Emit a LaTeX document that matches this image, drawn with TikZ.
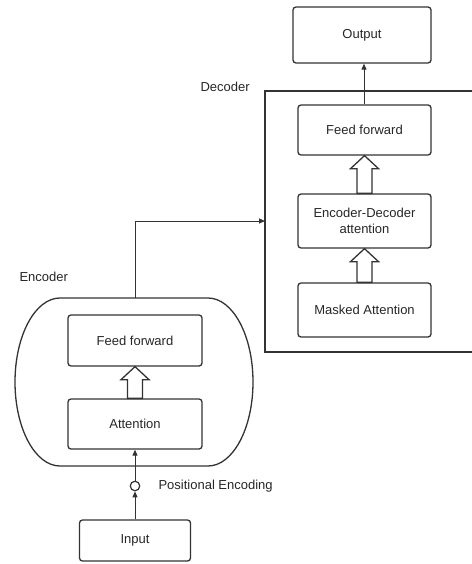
\documentclass[tikz,border=0pt]{standalone}
\usepackage{fontspec}
\setmainfont{Liberation Sans}
\usetikzlibrary{arrows.meta,calc}
\begin{document}
\begin{tikzpicture}[x=1pt,y=-1pt,
  every node/.style={font=\fontsize{13}{15.5}\selectfont, text=black!85},
  block/.style={draw=black!80, line width=1.3pt, rounded corners=3pt, align=center, inner sep=0pt},
  frame/.style={draw=black!80, line width=1.3pt},
  conn/.style={draw=black!80, line width=1pt, -{Triangle[length=6pt,width=5pt]}},
  hollowarr/.style={draw=black!80, line width=1.3pt, fill=white, line join=miter}
]
\useasboundingbox (0,0) rectangle (471,564);
\newcommand\harrow[2]{\path[hollowarr] let \p1=(#1.north), \p2=(#2.south) in
  (\x1-7.5pt,\y1) -- (\x1-7.5pt,\y2-13pt) -- (\x1-14pt,\y2-13pt) -- (\x1,\y2) --
  (\x1+14pt,\y2-13pt) -- (\x1+7.5pt,\y2-13pt) -- (\x1+7.5pt,\y1) -- cycle;}

% Encoder container
\draw[frame] (60,298) -- (208,298) arc[start angle=90, end angle=-90, x radius=45pt, y radius=84pt]
  -- (60,466) arc[start angle=270, end angle=90, x radius=45pt, y radius=84pt] -- cycle;
\coordinate (enctop) at (135,298);
\node[anchor=west] (enclabel) at (16,277) {Encoder};

% Decoder container (open at right)
\draw[frame] (472,91) -- (265,91) -- (265,352) -- (472,352);
\coordinate (decleft) at (265,221);
\node[anchor=west] (declabel) at (197,87) {Decoder};

% Encoder blocks
\node[block, minimum width=134pt, minimum height=51pt] (eff) at (135,340.5) {Feed forward};
\node[block, minimum width=134pt, minimum height=50pt] (att) at (135,424) {Attention};
\node[block, minimum width=111pt, minimum height=41pt] (inp) at (135,540.5) {Input};
\node[draw=black!80, line width=1.2pt, circle, minimum size=9.5pt, inner sep=0pt] (pe) at (135,486) {};
\node[anchor=west] (pelabel) at (155,486) {Positional Encoding};

% Decoder blocks
\node[block, minimum width=133pt, minimum height=50pt] (dff) at (364.5,130) {Feed forward};
\node[block, minimum width=133pt, minimum height=54pt] (eda) at (364.5,221) {Encoder-Decoder\\attention};
\node[block, minimum width=133pt, minimum height=54pt] (mat) at (364.5,310) {Masked Attention};
\node[block, minimum width=138pt, minimum height=56pt] (out) at (362,35) {Output};

% hollow arrows
\harrow{att}{eff}
\harrow{eda}{dff}
\harrow{mat}{eda}

% connectors
\draw[conn] (inp.north) -- (pe.south);
\draw[conn] (pe.north) -- (att.south);
\draw[conn] (enctop) |- (decleft);
\draw[conn] (dff.north -| 364,0) -- (out.south -| 364,0);
\end{tikzpicture}
\end{document}
